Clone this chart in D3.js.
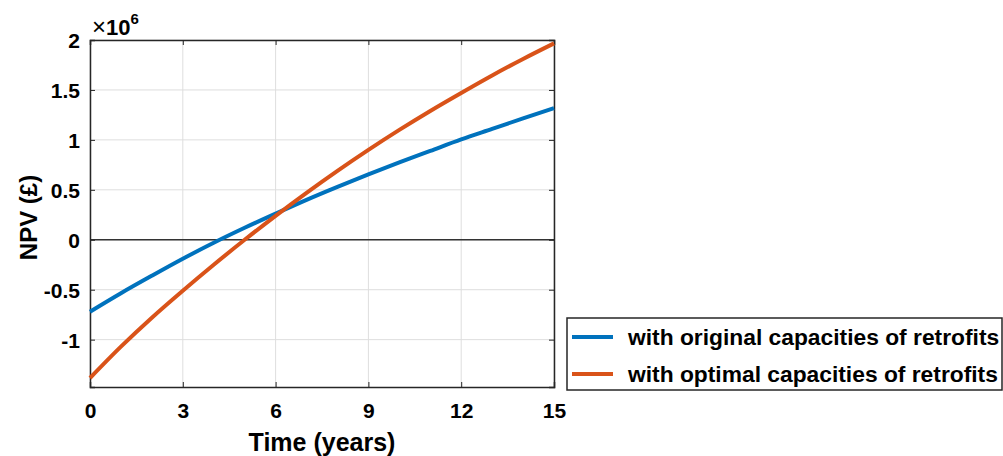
<!DOCTYPE html>
<html>
<head>
<meta charset="utf-8">
<script src="https://cdn.jsdelivr.net/npm/d3@7"></script>
<style>
  body { margin: 0; background: #fff; }
  text { font-family: "Liberation Sans", Arial, sans-serif; font-weight: bold; }
</style>
</head>
<body>
<div id="chart"></div>
<script>
// NPV over time, two retrofit options (values in units of 1e6 GBP)
const years = d3.range(0, 16)
const originalNpv = [-0.72, -0.535, -0.36, -0.19, -0.03, 0.12, 0.262, 0.40, 0.53, 0.655, 0.775, 0.89, 1.005, 1.11, 1.215, 1.317]
const optimalNpv = [-1.384, -1.07, -0.78, -0.51, -0.25, 0.0, 0.24, 0.47, 0.69, 0.90, 1.10, 1.29, 1.47, 1.645, 1.81, 1.966]
const seriesNames = ['with original capacities of retrofits', 'with optimal capacities of retrofits']
const seriesColors = ['#0072BD', '#D95319']
const xTicks = [0, 3, 6, 9, 12, 15]
const yTicks = [-1, -0.5, 0, 0.5, 1, 1.5, 2]

let margin = {top: 40, right: 449, bottom: 69, left: 90},
    width = 1003 - margin.left - margin.right,
    height = 456 - margin.top - margin.bottom

let svg = d3.select('#chart').append('svg')
    .attr('width', 1003)
    .attr('height', 456)

let g = svg.append('g')
    .attr('transform', `translate(${margin.left}, ${margin.top})`)

let xScale = d3.scaleLinear().domain([0, 15]).range([0, width])
let yScale = d3.scaleLinear().domain([-1.474, 2]).range([height, 0])

// grid
g.selectAll('.vgrid').data(xTicks).enter().append('line')
    .attr('x1', d => xScale(d)).attr('x2', d => xScale(d))
    .attr('y1', 0).attr('y2', height)
    .style('stroke', '#dedede').style('stroke-width', 1)
g.selectAll('.hgrid').data(yTicks).enter().append('line')
    .attr('y1', d => yScale(d)).attr('y2', d => yScale(d))
    .attr('x1', 0).attr('x2', width)
    .style('stroke', '#dedede').style('stroke-width', 1)

// zero line
g.append('line')
    .attr('x1', 0).attr('x2', width)
    .attr('y1', yScale(0)).attr('y2', yScale(0))
    .style('stroke', '#333').style('stroke-width', 1.5)

// axes (MATLAB style, ticks inside)
let xAxis = g.append('g')
    .attr('transform', `translate(0, ${height})`)
    .call(d3.axisBottom(xScale).tickValues(xTicks).tickSize(-5).tickPadding(16).tickFormat(d3.format('d')))
let yAxis = g.append('g')
    .call(d3.axisLeft(yScale).tickValues(yTicks).tickSize(-5).tickPadding(10).tickFormat(d => String(d)))
g.append('g')
    .call(d3.axisTop(xScale).tickValues(xTicks).tickSize(-5).tickFormat(''))
g.append('g')
    .attr('transform', `translate(${width}, 0)`)
    .call(d3.axisRight(yScale).tickValues(yTicks).tickSize(-5).tickFormat(''))

g.selectAll('.domain').style('stroke', '#262626').style('stroke-width', 1.5)
g.selectAll('.tick line').style('stroke', '#262626')
g.selectAll('.tick text')
    .style('font-size', '21px').style('fill', '#000')
    .style('font-family', '"Liberation Sans", Arial, sans-serif').style('font-weight', 'bold')
yAxis.selectAll('.tick text').attr('dy', '0.35em')

// lines
let line = d3.line()
    .x((d, i) => xScale(years[i]))
    .y(d => yScale(d))
    .curve(d3.curveMonotoneX)

;[originalNpv, optimalNpv].forEach((vals, i) => {
    g.append('path')
        .datum(vals)
        .attr('d', line)
        .style('fill', 'none')
        .style('stroke', seriesColors[i])
        .style('stroke-width', 4)
})

// exponent label
let expo = svg.append('text')
    .attr('x', margin.left + 2)
    .attr('y', 35)
    .style('font-size', '22px')
expo.append('tspan').text('×').style('font-weight', 'normal').style('font-size', '24px')
expo.append('tspan').text('10')
expo.append('tspan').text('6').attr('dy', -11).style('font-size', '15px')

// axis labels
svg.append('text')
    .attr('x', margin.left + width / 2)
    .attr('y', 451)
    .style('text-anchor', 'middle')
    .style('font-size', '25px')
    .text('Time (years)')
svg.append('text')
    .attr('transform', `translate(37, ${margin.top + height / 2 + 4}) rotate(-90)`)
    .style('text-anchor', 'middle')
    .style('font-size', '24px')
    .text('NPV (£)')

// legend
let legend = svg.append('g').attr('transform', 'translate(567, 318)')
legend.append('rect')
    .attr('width', 435).attr('height', 72)
    .style('fill', '#fff').style('stroke', '#262626').style('stroke-width', 1.5)
seriesNames.forEach((name, i) => {
    let yy = 19 + i * 37
    legend.append('line')
        .attr('x1', 5).attr('x2', 46)
        .attr('y1', yy).attr('y2', yy)
        .style('stroke', seriesColors[i]).style('stroke-width', 4)
    legend.append('text')
        .attr('x', 61).attr('y', yy)
        .attr('dy', '0.35em')
        .style('font-size', '22.8px')
        .text(name)
})
</script>
</body>
</html>
